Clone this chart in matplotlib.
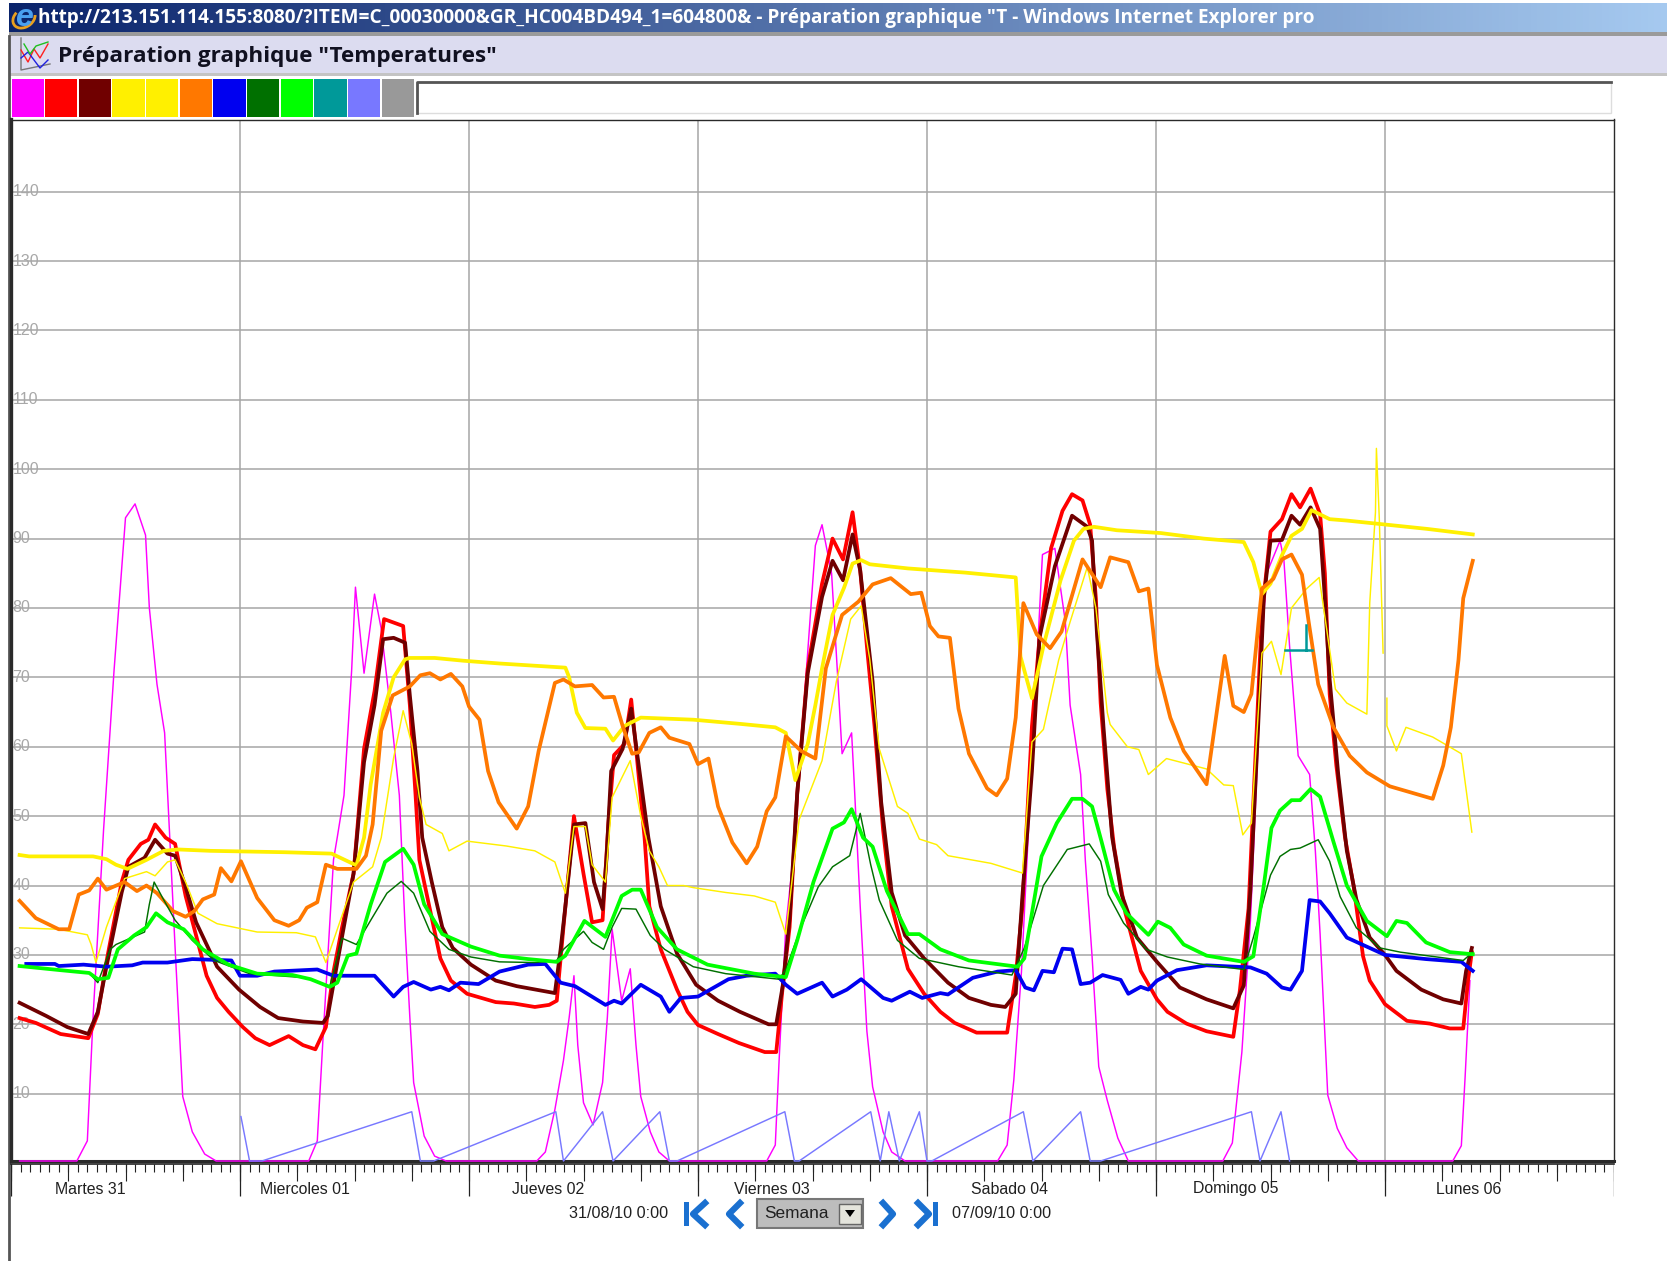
import numpy as np
import matplotlib
matplotlib.use("Agg")
import matplotlib.pyplot as plt
from matplotlib.patches import Rectangle, Polygon, Arc

plt.rcParams['font.family'] = ['Liberation Sans', 'DejaVu Sans']

W, H = 1672, 1261
nan = float('nan')

# legend squares at the top
palette = ['#ff00ff', '#ff0000', '#700000', '#fff000', '#fff000', '#ff7800',
           '#0000f0', '#007000', '#00ff00', '#009999', '#7878ff', '#999999']
y_ticks = [10, 20, 30, 40, 50, 60, 70, 80, 90, 100, 110, 120, 130, 140]
day_names = ['Martes 31', 'Miercoles 01', 'Jueves 02', 'Viernes 03', 'Sabado 04', 'Domingo 05', 'Lunes 06']
day_label_h = [8.3, 30.8, 56.3, 79.7, 104.6, 128.3, 152.8]

# hours since 31/08 0:00, temperature
magenta_h = [0.9, 6.9, 8, 8.6, 9.7, 10.8, 11.4, 12, 13, 14.1, 14.5, 15.3, 16.1, 16.6, 17.2, 18, 19, 20.3, 21.5,
             31.2, 32.1, 32.7, 33.8, 34.2, 34.9, 35.7, 36.1, 37, 38.1, 38.8, 39.8, 40.7, 41.3, 41.8, 42.2, 43.3, 44.4, 45.6,
             55.1, 56, 57, 57.9, 58.5, 59, 59.4, 60, 61, 62, 62.5, 63, 64, 64.9, 65.5, 66, 67, 67.9, 69,
             79.2, 80.1, 80.5, 81.2, 82.2, 83.1, 84.3, 85, 86, 86.7, 87.1, 88.1, 88.4, 89, 89.7, 90.3, 91.4, 92.3, 93.7,
             103.4, 104.4, 105.1, 105.9, 106.6, 107.4, 108.1, 109.4, 110.5, 111, 112.1, 112.6, 113.3, 114, 114.9, 116, 117.1,
             127, 128, 129, 129.9, 130.6, 131.1, 131.6, 133, 133.4, 134, 134.9, 136.1, 136.7, 137.2, 138, 139, 140, 141.2,
             151.1, 152, 152.4, 152.9]
magenta_v = [0.3, 0.3, 3.2, 21, 48, 71, 82, 93, 95, 90.5, 80, 69, 62, 48, 31, 9.6, 4.5, 1.3, 0.3,
             0.3, 3.2, 18, 43.7, 47, 53, 71, 83, 70.6, 82, 77, 65, 53, 34, 21, 11.6, 3.9, 1, 0.3,
             0.3, 1.6, 7.7, 14.8, 21, 27, 17, 8.7, 5.5, 11.6, 21, 33.7, 23.4, 28, 17, 9.6, 4.5, 1.6, 0.3,
             0.3, 2.6, 14.8, 34, 47, 66, 89, 92, 85, 68.7, 59, 62, 54, 37, 19, 11, 4.5, 1.6, 0.3,
             0.3, 2.6, 12, 27.6, 47, 69, 87.7, 88.6, 78, 66, 56, 43.5, 29.8, 13.9, 9, 3.6, 0.3,
             0.3, 2.9, 16, 35, 57, 75, 85, 89.7, 87, 74.5, 58.7, 56, 45, 33, 9.8, 5, 2.2, 0.3,
             0.3, 2.5, 12.5, 26.3]

red_h = [0.9, 2.6, 5.2, 8.1, 9.1, 10, 11.6, 12.3, 13.6, 14.4, 15.1, 16.2, 17.2, 18.3, 19.4, 20.5, 21.6, 22.8, 24.3, 25.6, 27.1,
         29.1, 30.6, 31.9, 33, 33.8, 34.7, 35.9, 37, 38.1, 39.1, 39.9, 41.1, 41.8, 42.4, 42.8, 43.9, 45, 46.1, 47.8, 50.8, 52.7,
         54.9, 56.4, 57.2, 57.9, 59, 60, 60.9, 62, 62.6, 63.2, 64.3, 65, 65.6, 66.4, 66.9, 68.1, 69.8, 70.9, 72, 74.1, 76.3, 79, 80.2,
         80.9, 81.6, 82.4, 83.5, 85, 86.1, 87.2, 88.2, 89, 89.7, 90.5, 91.4, 92.3, 94, 95.7, 97.4, 98.9, 101.2, 104.4,
         105.3, 106, 107, 107.8, 109, 110.2, 111.2, 112.3, 113.1, 113.7, 114.2, 114.9, 115.6, 116.8, 118.4, 120.1, 121.2, 123.2, 125.3, 128.1,
         128.8, 129.7, 130.6, 131.1, 132, 133.2, 134.2, 135.1, 136.2, 137.2, 137.7, 138.2, 138.9, 139.8, 140.7, 141.7, 142.4, 144, 146.3, 148.7, 150.8, 152.2, 152.7, 153.1]
red_v = [20.9, 20.2, 18.6, 18, 21.5, 29, 40.5, 43.7, 46, 46.6, 48.8, 46.9, 46, 38.5, 32.8, 27, 23.8, 21.8, 19.6, 18, 17,
         18.3, 17, 16.4, 19.6, 27.6, 34, 41.7, 59.7, 68, 78.4, 78, 77.4, 66, 53, 43.7, 36.6, 29.5, 26.3, 24.4, 23.2, 23,
         22.5, 22.8, 23.4, 34, 50, 41.7, 34.7, 35, 48.8, 58.8, 60.4, 66.8, 58.4, 46.9, 37, 30.8, 25, 21.8, 19.9, 18.6, 17.3, 16, 16,
         25.7, 34, 53.3, 71.3, 83.5, 90, 87, 93.8, 85.4, 74.5, 63, 48, 37, 28, 24.4, 21.8, 20.2, 18.8, 18.8,
         27, 37, 63, 75.8, 88.6, 94, 96.4, 95.5, 92, 81.4, 66.3, 53.9, 45.6, 36, 27.7, 23.6, 21.8, 20.1, 19, 18.2,
         25, 36.7, 64, 79, 91, 92.8, 96.4, 94.5, 97.2, 93.5, 85, 67.6, 57.3, 47, 40, 29.8, 26.3, 22.9, 20.5, 20.1, 19.4, 19.4, 26.3, 30.4]

maroon_h = [0.9, 3.7, 5.9, 8.1, 9.1, 10, 11.6, 12.3, 14, 15.1, 16.4, 17.2, 18.3, 19.4, 20.5, 21.6, 23.9, 26.1, 28, 30.6, 32.7,
            33.2, 34.2, 35.9, 37, 38.1, 39, 40.1, 41.3, 41.8, 42.6, 43.1, 44.1, 45.2, 46.3, 48.2, 50.8, 53, 57,
            57.6, 58.1, 59, 60.2, 61.1, 62, 62.4, 62.9, 64.1, 65, 65.8, 66.8, 68.1, 69.8, 71.8, 74.1, 76.4, 79.4, 80.2,
            80.9, 81.6, 82.4, 83.5, 85, 86.1, 87.2, 88.2, 89, 90.3, 91.2, 92.3, 93.7, 95.7, 98.2, 100.4, 102.7, 104.2,
            105.3, 106, 107, 107.8, 109.4, 111.2, 112.8, 113.3, 113.8, 114.5, 115.4, 116.4, 118, 120.1, 122.5, 125.3, 128.1,
            129.2, 129.9, 130.7, 131.3, 132, 133.2, 134.2, 135.1, 136.2, 137.2, 137.7, 138.2, 139.1, 140, 141, 142.4, 144, 145.2, 147.8, 150.1, 152, 152.5, 153.1]
maroon_v = [23.1, 21.2, 19.6, 18.6, 21.8, 28.3, 39, 42.7, 44, 46.6, 44.6, 44.3, 39.8, 34.7, 31.5, 28.3, 25, 22.5, 20.9, 20.4, 20.2,
            21.2, 28.9, 41.7, 57.8, 66, 75.5, 75.7, 75, 67.4, 56.5, 46.9, 40.5, 34, 31, 28.6, 26.3, 25.5, 24.5,
            30.8, 37, 48.8, 49, 40.5, 36.6, 43.7, 56.5, 59.7, 65.5, 57.2, 46.9, 37, 30.2, 25.7, 23.4, 21.8, 20, 20,
            25.7, 35.3, 53.3, 70.6, 81.6, 86.8, 84, 90.6, 85.4, 69.4, 52, 39, 32.8, 29.5, 26, 23.8, 22.8, 22.5,
            24.4, 38.5, 56.5, 75.8, 86, 93.3, 91.7, 89.7, 76.6, 62.8, 47, 38.7, 32.5, 29, 25.3, 23.6, 22.3,
            25.6, 39.4, 62.8, 81.4, 89.7, 89.8, 93.3, 92, 94.5, 91.4, 81.4, 69.7, 56, 45, 38, 32.5, 30, 27.7, 25, 23.6, 23, 27.7, 31]

yellow_h = [0.9, 1.9, 8.6, 10, 11, 12.2, 14.2, 16, 17.5, 20.9, 28.7, 33.6, 36.2, 37, 37.7, 39, 40.1, 41.3, 41.8, 44.4, 47.4, 51.2, 58.1,
            58.5, 59.3, 60.2, 62.3, 63.1, 64.3, 66, 71.5, 76.4, 80.1, 81.2, 82.2, 83.5, 84.3, 85, 86.1, 87.3, 88.2, 89.1, 90, 94, 100, 105.3,
            105.8, 107, 108.2, 110, 111.4, 112.4, 113.5, 115.9, 120.5, 125, 129.2, 130.2, 131.1, 132, 133.2, 134.2, 135.3, 136.3, 138.2, 140, 142.1, 148.4, 153.2]
yellow_v = [44.4, 44.2, 44.2, 43.8, 43, 42.4, 43.7, 45, 45.2, 45, 44.8, 44.6, 42.9, 46.9, 54.6, 64.9, 70, 72.6, 72.8, 72.8, 72.4, 72, 71.4,
            70, 64.9, 62.7, 62.6, 60.9, 63, 64.2, 63.9, 63.3, 62.8, 62, 55.2, 60.4, 66, 71.3, 79, 82.9, 86.4, 86.9, 86.3, 85.7, 85.1, 84.4,
            73, 67, 74.5, 84, 89.7, 91.4, 91.7, 91.2, 90.8, 90, 89.5, 86.6, 82, 83.5, 87.6, 90.4, 91.4, 94.1, 92.8, 92.6, 92.3, 91.4, 90.6]

yellow2_h = [0.9, 5, 8, 8.4, 8.9, 10, 11.9, 14.2, 15.1, 16.4, 17.2, 18.3, 19.6, 21.6, 25.8, 29.9, 31.9, 33, 35.9, 37.9, 38.8, 40.1, 41.1, 42,
             42.8, 43.5, 45.2, 45.9, 47.8, 51.9, 54.9, 57, 58.1, 59, 60.2, 60.9, 62.3, 63, 64.9, 66, 66.9, 67.9, 68.8, 70.5, 71.5, 74.9, 77.9, 80.1,
             81.2, 82.6, 85, 86.5, 88, 89.1, 90, 91, 92.9, 94, 95.2, 97, 98.2, 102.7, 106, 107, 108.2, 109.8, 111, 112.8, 113.7, 114.9, 115.2, 117, 118.2,
             119.2, 121.1, 125.3, 127.1, 128.1, 129.1, 130, 131.1, 132.1, 133.1, 134.2, 135.8, 137.1, 138.8, 140, 142.1, 142.4, 143, 143.1, 143.4, 143.8, nan,
             144.2, 144.2, 145.2, 146.2, 149, 152, 153.1]
yellow2_v = [33.9, 33.7, 32.9, 31.5, 28.9, 34, 41, 42, 41.4, 43.4, 43.7, 40.5, 36, 34.5, 33.3, 33.2, 32.6, 28.9, 40.5, 42.7, 46.9, 58.4, 65.2, 60.4,
             52.7, 48.8, 47.5, 45, 46.4, 45.7, 45, 43.4, 38.9, 48.5, 48.5, 43, 40.5, 52.7, 58, 50, 45, 42.7, 40, 40, 39.7, 39, 38.5, 37.6,
             33, 49.5, 58, 69.4, 78.4, 80.3, 72.6, 59.7, 51.4, 50.4, 46.7, 45.9, 44.3, 43.2, 41.8, 60.7, 62.5, 72.5, 78, 85.9, 80, 64.9, 63.2, 60, 59.6,
             56, 58.3, 56.8, 54.5, 54.4, 47.3, 49, 73.5, 75.2, 70.4, 80, 82.8, 84.4, 68.3, 66.3, 64.7, 80.7, 93.8, 103, 93, 73.5, nan,
             67, 63, 59.4, 62.8, 61.4, 59, 47.7]

orange_h = [0.9, 2.6, 5, 6.1, 7.1, 8.2, 9.1, 10, 11.9, 13.2, 14.2, 15.3, 17, 18.3, 19.2, 20.1, 21.3, 22, 23.1, 24.1, 25.8, 27.6, 29.1, 30.2, 31, 32.1, 33,
            34.2, 36.2, 37.2, 37.9, 38.8, 40, 41.8, 42.9, 43.9, 45, 46.1, 47.3, 48, 49.1, 50, 51.1, 53, 54.2, 55.3, 57, 57.9, 59.1, 60.9, 62.1, 63.2,
            64.1, 65.1, 65.8, 66.9, 68.1, 69, 71.1, 72, 73.1, 74.1, 75.6, 77.1, 78.2, 79.2, 80.1, 81.2, 82.8, 84.3, 85.4, 87.1, 88.8, 90.3, 92.2, 94.3, 95.4,
            96.3, 97.2, 98.4, 99.3, 100.4, 102.3, 103.3, 104.4, 105.3, 106.1, 107.5, 108.9, 110.1, 112.3, 114.2, 115.2, 117.1, 118.2, 119.2, 120.1, 121.5, 122.9, 125.3,
            127.2, 128.1, 129.2, 130, 131.1, 132.3, 133.2, 134.2, 135.3, 136, 137, 138.6, 140.3, 142.1, 144.5, 149, 150.1, 150.9, 151.7, 152.2, 153.2]
orange_v = [37.8, 35.3, 33.7, 33.7, 38.7, 39.3, 41, 39.4, 40.5, 39.2, 40, 38.9, 36.3, 35.5, 36.3, 38, 38.7, 42.5, 40.6, 43.5, 38.2, 35, 34.2, 35, 36.8, 37.6, 43,
            42.4, 42.4, 44.3, 48.8, 62.3, 67.4, 68.7, 70.3, 70.6, 69.7, 70.5, 68.7, 65.8, 63.9, 56.5, 52, 48.2, 51.4, 59.4, 69.2, 69.7, 68.7, 68.9, 67.1, 67.2,
            63, 59, 59.2, 62, 62.8, 61.3, 60.4, 57.5, 58.3, 51.4, 46.2, 43.2, 45.6, 50.7, 52.7, 61.5, 59.4, 58.3, 71.3, 79, 80.9, 83.4, 84.3, 82, 82.2,
            77.4, 75.9, 75.7, 65.5, 59, 54, 53, 55.4, 64.2, 80.7, 76.2, 74.2, 76.6, 87, 83, 87.3, 86.6, 82.4, 82.8, 71.8, 64.2, 59.4, 54.6,
            73.1, 65.9, 65, 67.6, 82.8, 84.2, 87, 87.7, 84.8, 78, 69, 62.8, 58.7, 56.3, 54.3, 52.5, 57.3, 62.8, 72.5, 81.4, 86.8]

blue_h = [1.6, 4.6, 5, 7.6, 10, 12.7, 13.8, 16.4, 19, 23.1, 24, 25.8, 27.6, 32.1, 33.8, 36.2, 38.1, 40.1, 41.1, 42.2, 44, 45, 45.9, 47.1, 49, 51.2, 54.2, 56,
          57.6, 59.1, 62.3, 63.2, 64, 66, 68.1, 69, 70.2, 72, 75.2, 77.1, 80.1, 81.2, 82.4, 85, 86.1, 87.6, 89.1, 91.4, 92.3, 94.2, 95.5, 97.4, 98.2, 100.8, 103.4, 105.3,
          106.3, 107.2, 108.1, 109.3, 110.2, 111.2, 112.1, 113.1, 114.4, 116.3, 117.1, 118.4, 119.2, 120.1, 122.2, 125.3, 129.9, 131.6, 133.2, 134.1, 135.3, 136.1, 137.2, 138.2, 140, 144, 148.3, 152, 153.2]
blue_v = [28.7, 28.7, 28.4, 28.6, 28.3, 28.5, 28.9, 28.9, 29.4, 29.2, 27, 27, 27.6, 27.9, 27, 27, 27, 24, 25.4, 26.1, 25, 25.4, 24.9, 26, 25.8, 27.6, 28.6, 28.7,
          26, 25.5, 22.8, 23.4, 23, 25.7, 24, 21.8, 23.8, 24, 26.5, 27, 27.3, 25.7, 24.4, 26, 24, 25, 26.5, 23.8, 23.4, 24.7, 23.8, 24.5, 24.3, 26.7, 27.6, 27.8,
          25.3, 24.9, 27.7, 27.5, 30.9, 30.8, 25.8, 26, 27.1, 26.4, 24.4, 25.4, 25, 26.3, 27.8, 28.5, 28.2, 27.3, 25.3, 25, 27.7, 37.9, 37.7, 36, 32.5, 30, 29.4, 29, 27.7]

dkgreen_h = [0.9, 8.2, 9.1, 10.4, 11, 14, 14.5, 15, 15.9, 17.2, 19, 21.3, 25, 31, 33.4, 34.7, 36.2, 37.7, 39.4, 40.9, 42.2, 43.9, 45.9, 48.2, 51.2, 54.9, 57.2,
             57.9, 60, 60.9, 62.1, 63, 64, 65.5, 67, 68.5, 71.5, 74.9, 80.5, 81.2, 82.8, 84.6, 86.1, 87.9, 89, 90.1, 91, 92.9, 95.2, 99.3, 104.9,
             106.2, 108.2, 110.7, 113, 114.2, 115, 116.6, 119, 121.2, 124.6, 129.2, 130.2, 132, 133, 134.1, 135.1, 137, 138.2, 139.3, 141, 143.5, 145.6, 152.2, 153.2]
dkgreen_v = [28.4, 27.4, 26, 30.8, 31.5, 33.3, 37.3, 40.5, 38.2, 35, 32.1, 29.2, 27.3, 26.7, 25.4, 32.4, 31.5, 35, 38.9, 40.6, 38.9, 33.4, 30.8, 29.7, 29, 28.9, 29.2,
             30.8, 33.4, 31.8, 30.8, 34, 36.7, 36.6, 32.8, 30.8, 28.3, 27.3, 26.5, 27.9, 34, 39.8, 42.7, 44.3, 50.4, 43, 37.9, 32.1, 29.5, 28.3, 27.1,
             31, 40, 45.2, 46, 43.5, 38.7, 34.6, 30.8, 29.7, 28.7, 27.9, 32.5, 41.5, 44.2, 45.2, 45.4, 46.6, 43.5, 38.4, 33.9, 31, 30.4, 29.2, 30.4]

green_h = [0.9, 5.2, 8.2, 9.1, 10.2, 11.2, 12.9, 14.2, 15.2, 16.4, 18.1, 20.1, 22.8, 25.8, 29.5, 31.4, 33.4, 34.2, 35.3, 36.2, 37.7, 39.2, 41.1, 42.2, 43.3, 45.2, 48.2, 51.2, 54.2, 57.2,
           58.1, 60.1, 62.3, 64, 65.1, 66, 67.7, 69.8, 73, 77.9, 81.2, 82.4, 84.1, 86.1, 87.3, 88.1, 89.3, 90.3, 91.8, 94, 95.2, 97.4, 100.4, 105.5,
           106.2, 108, 109.6, 111.2, 112.3, 113.3, 114.3, 115.6, 116.9, 119.2, 120.2, 121.5, 122.9, 125.3, 129.2, 130.2, 131.3, 132.1, 133, 134.2, 135.1, 136.2, 137.2, 138.6, 140, 142.1, 144.2, 145.2, 146.3, 148.3, 150.8, 153.2]
green_v = [28.4, 27.8, 27.4, 26.5, 26.7, 30.8, 32.8, 34, 36, 34.7, 33.7, 30.8, 28.6, 27.3, 27.1, 26.5, 25.4, 26, 29.9, 30.2, 37.3, 43.4, 45.3, 43, 37.3, 33, 31.2, 29.9, 29.4, 29,
           29.9, 34.9, 32.6, 38.5, 39.4, 39.4, 34, 30.8, 28.6, 27.3, 26.8, 32.1, 40.5, 48.2, 49.1, 51, 46.9, 45.6, 39.2, 33, 33, 30.8, 29.2, 28.3,
           29.5, 44.2, 49, 52.5, 52.5, 51.4, 46.3, 39.4, 36, 32.9, 34.8, 33.9, 31.5, 29.9, 29, 29.8, 40, 48.3, 50.8, 52.3, 52.3, 53.9, 52.8, 46.3, 40, 34.9, 32.7, 34.9, 34.6, 31.8, 30.4, 30.1]

teal_h = [133.5, 136.4, nan, 135.7, 135.7]
teal_v = [74, 74, nan, 74, 77.6]

periw_h = [24.1, 25, 26.3, 42, 42.9, 44.3, 57.1, 57.9, 62, 63.1, 68, 69, 69.8, 81.1, 82.1, 82.6, 90.1, 91.1, 92, 93.1, 95.2, 96, 96.5,
           106.1, 107.1, 112.1, 113.1, 114.2, 130, 130.9, 133.1, 134]
periw_v = [6.7, 0.3, 0.3, 7.4, 0.3, 0.3, 7.4, 0.3, 7.4, 0.3, 7.4, 0.3, 0.3, 7.4, 0.3, 0.3, 7.4, 0.3, 7.4, 0.3, 7.4, 0.3, 0.3,
           7.4, 0.3, 7.4, 0.3, 0.3, 7.4, 0.3, 7.4, 0.3]

fig = plt.figure(figsize=(W / 100, H / 100), dpi=100, facecolor='white')


def px_axes(left, top, right, bottom):
    return fig.add_axes([left / W, 1 - bottom / H, (right - left) / W, (bottom - top) / H])


# overlay in pixels for the browser window round the chart
ui = fig.add_axes([0, 0, 1, 1])
ui.set_xlim(0, W)
ui.set_ylim(H, 0)
ui.axis('off')
grad = np.linspace(0, 1, 256).reshape(1, -1, 1)
c0, c1 = np.array([0.04, 0.14, 0.42]), np.array([0.65, 0.79, 0.94])
ui.imshow(c0 + (c1 - c0) * grad, extent=(9, 1667, 32, 3), aspect='auto')
ui.set_xlim(0, W)
ui.set_ylim(H, 0)
ui.add_patch(Rectangle((9, 32), 1658, 4, fc='#9a9a9a', ec='none'))
ui.add_patch(Rectangle((9, 36), 1658, 39, fc='#dcdcf0', ec='none'))
ui.add_patch(Rectangle((9, 73), 1658, 3, fc='#c4c4c4', ec='none'))
ui.plot([9, 9], [36, 1261], color='#555555', lw=2)
ui.text(38, 18, 'http://213.151.114.155:8080/?ITEM=C_00030000&GR_HC004BD494_1=604800& - Préparation graphique "T - Windows Internet Explorer pro',
        color='white', fontsize=13.7, fontweight='bold', family=['Open Sans'], va='center')
ui.add_patch(Arc((24, 18), 24, 18, angle=-35, theta1=20, theta2=250, color='#e8a020', lw=2))
ui.text(24, 18, 'e', color='#4aa0f0', fontsize=23, fontweight='bold', style='italic', ha='center', va='center')
ui.text(58, 56.5, 'Préparation graphique "Temperatures"', color='#101020', fontsize=16.2, fontweight='bold',
        family=['Open Sans'], va='center')
# small chart icon
ui.plot([21, 21, 50], [38, 70, 64], color='#777777', lw=1)
ui.plot([21, 28, 34, 40, 48], [50, 62, 49, 58, 44], color='#ff2020', lw=1)
ui.plot([21, 28, 34, 40, 48], [58, 52, 60, 68, 60], color='#2020e0', lw=1)
ui.plot([24, 30, 36, 48], [44, 54, 46, 42], color='#20c020', lw=1)

for i, c in enumerate(palette):
    ui.add_patch(Rectangle((11.5 + i * 33.65, 78.5), 32.2, 38.5, fc=c, ec='none'))
ui.add_patch(Rectangle((417, 82), 1194, 31, fc='white', ec='#dddddd', lw=1))
ui.plot([417, 417, 1611], [113, 82, 82], color='#555555', lw=2)

ax = px_axes(11, 119.5, 1614, 1161)
ax.set_xlim(0, 168)
ax.set_ylim(0.3, 150.4)
ax.set_xticks(np.arange(24, 168, 24))
ax.set_yticks(y_ticks)
ax.grid(True, color='#a6a6a6', lw=1.1)
ax.set_axisbelow(True)
ax.tick_params(length=0, labelbottom=False, labelleft=False)
ax.spines['left'].set_linewidth(2.4)
ax.spines['bottom'].set_linewidth(2.2)
ax.spines['top'].set_linewidth(1)
ax.spines['right'].set_linewidth(1)
for s in ax.spines.values():
    s.set_color('#2a2a2a')
for v in y_ticks:
    ax.text(0.15, v, str(v), color='#a8a8a8', fontsize=11.5, va='center', ha='left')

thin, thick = 1.05, 2.7
ax.plot(magenta_h, magenta_v, color=palette[0], lw=thin, clip_on=False, zorder=3)
ax.plot(red_h, red_v, color=palette[1], lw=thick, zorder=3)
ax.plot(maroon_h, maroon_v, color=palette[2], lw=thick, zorder=3)
ax.plot(yellow2_h, yellow2_v, color=palette[4], lw=thin, zorder=3)
ax.plot(yellow_h, yellow_v, color=palette[3], lw=thick, zorder=3)
ax.plot(orange_h, orange_v, color=palette[5], lw=thick, zorder=3)
ax.plot(blue_h, blue_v, color=palette[6], lw=thick, zorder=3)
ax.plot(dkgreen_h, dkgreen_v, color=palette[7], lw=thin, zorder=3)
ax.plot(green_h, green_v, color=palette[8], lw=thick, zorder=3)
ax.plot(teal_h, teal_v, color=palette[9], lw=1.8, zorder=3)
ax.plot(periw_h, periw_v, color=palette[10], lw=thin, clip_on=False, zorder=3)

# time ruler under the plot
tk = px_axes(11, 1164, 1614, 1200)
tk.set_xlim(0, 168)
tk.set_ylim(36, 0)
tk.axis('off')
tk.plot([0, 168], [0, 0], color='#222222', lw=1.2, clip_on=False)
tk.vlines(np.arange(0, 169), 0, 8, color='#222222', lw=0.8)
tk.vlines(np.arange(0, 169, 6), 0, 17, color='#222222', lw=0.8)
tk.vlines(np.arange(0, 169, 24), 0, 32, color='#222222', lw=0.9)
for h, name in zip(day_label_h, day_names):
    tk.text(h, 25, name, fontsize=11.4, ha='center', va='center', color='#202020')

# week navigation
ui.text(619, 1214, '31/08/10 0:00', fontsize=11.6, ha='center', va='center', color='#202020')
ui.text(1002, 1214, '07/09/10 0:00', fontsize=11.6, ha='center', va='center', color='#202020')
blue = '#1a70d0'
ui.add_patch(Rectangle((684, 1202), 5, 24, fc=blue, ec='none'))
ui.plot([705, 693, 705], [1203, 1214, 1225], color=blue, lw=4.5)
ui.plot([740, 729, 740], [1203, 1214, 1225], color=blue, lw=4.5)
ui.plot([883, 893, 883], [1203, 1214, 1225], color=blue, lw=4.5)
ui.plot([918, 929, 918], [1203, 1214, 1225], color=blue, lw=4.5)
ui.add_patch(Rectangle((933, 1202), 5, 24, fc=blue, ec='none'))
ui.add_patch(Rectangle((757, 1199), 106, 29, fc='#bdbdbd', ec='#777777', lw=1.5))
ui.text(764, 1214, 'Semana', fontsize=12.4, va='center', color='#202020')
ui.add_patch(Rectangle((839, 1204), 22, 20, fc='#e4e4dc', ec='#666666', lw=1))
ui.add_patch(Polygon([[845, 1210], [855, 1210], [850, 1217]], fc='black', ec='none'))

fig.savefig('out.png', dpi=100)
